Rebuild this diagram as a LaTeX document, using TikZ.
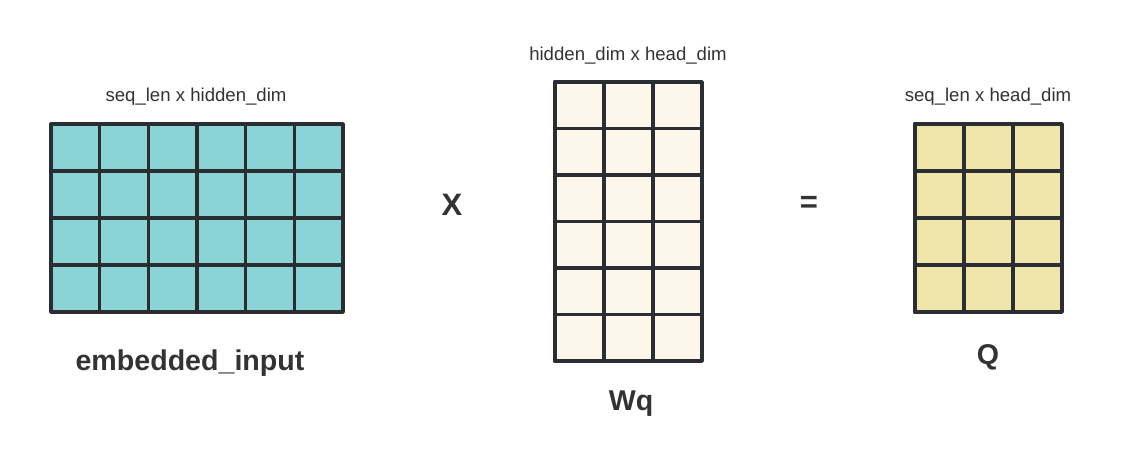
\documentclass[tikz,border=0pt]{standalone}
\usepackage{fontspec}
\setmainfont{Liberation Sans}
\usetikzlibrary{calc}
\definecolor{linec}{HTML}{2A2E33}
\definecolor{tealc}{HTML}{8AD4D6}
\definecolor{creamc}{HTML}{FCF7EA}
\definecolor{yellowc}{HTML}{EFE4AA}
\definecolor{txtc}{HTML}{333333}
\begin{document}
\begin{tikzpicture}[x=1pt,y=-1pt,
  gridline/.style={draw=linec, line width=3.2pt},
  matbox/.style={draw=linec, line width=3.4pt, line join=round, inner sep=0pt, outer sep=0pt},
  dimlabel/.style={font=\fontsize{18.6}{22}\selectfont, text=txtc, inner sep=0pt},
  namelabel/.style={font=\fontsize{28.6}{32}\selectfont\bfseries, text=txtc, inner sep=0pt},
  oplabel/.style={font=\fontsize{31}{34}\selectfont\bfseries, text=txtc, inner sep=0pt}]
\useasboundingbox (0,0) rectangle (1134,466);
% left matrix
\node[matbox, fill=tealc, minimum width=292pt, minimum height=188pt] (A) at (197,218) {};
\foreach \i in {1,...,5} \draw[gridline] ($(A.north west)+(\i*292/6,0)$) -- ++(0,188);
\foreach \j in {1,...,3} \draw[gridline] ($(A.north west)+(0,\j*47)$) -- ++(292,0);
\draw[matbox] (A.north west) rectangle (A.south east);
% middle matrix
\node[matbox, fill=creamc, minimum width=147pt, minimum height=279pt] (W) at (628.5,221.5) {};
\foreach \i in {1,2} \draw[gridline] ($(W.north west)+(\i*49,0)$) -- ++(0,279);
\foreach \j in {1,...,5} \draw[gridline] ($(W.north west)+(0,\j*46.5)$) -- ++(147,0);
\draw[matbox] (W.north west) rectangle (W.south east);
% right matrix
\node[matbox, fill=yellowc, minimum width=147pt, minimum height=188pt] (Q) at (988.5,218) {};
\foreach \i in {1,2} \draw[gridline] ($(Q.north west)+(\i*49,0)$) -- ++(0,188);
\foreach \j in {1,...,3} \draw[gridline] ($(Q.north west)+(0,\j*47)$) -- ++(147,0);
\draw[matbox] (Q.north west) rectangle (Q.south east);
% labels
\node[dimlabel] (Adim) at (196,97) {seq\_len x hidden\_dim};
\node[dimlabel] (Wdim) at (628,56) {hidden\_dim x head\_dim};
\node[dimlabel] (Qdim) at (988,97) {seq\_len x head\_dim};
\node[namelabel] (Aname) at (190,363) {embedded\_input};
\node[namelabel] (Wname) at (631,404) {Wq};
\node[namelabel] (Qname) at (988,357) {Q};
\node[oplabel] (times) at (452,205) {X};
\node[oplabel] (eq) at (809,204) {=};
\end{tikzpicture}
\end{document}
